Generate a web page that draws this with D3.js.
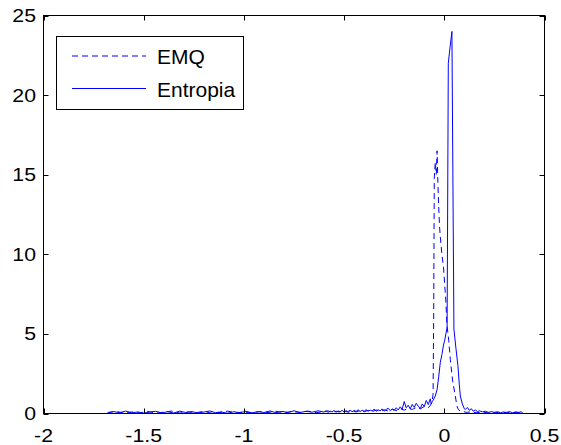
<!DOCTYPE html>
<html>
<head>
<meta charset="utf-8">
<script src="https://cdn.jsdelivr.net/npm/d3@7"></script>
<style>
  html, body { margin: 0; padding: 0; background: #fff; }
  svg { display: block; font-family: "Liberation Sans", Arial, Helvetica, sans-serif; }
</style>
</head>
<body>
<svg id="chart" width="561" height="445"></svg>
<script>
// axis ticks
const xTicks = [-2, -1.5, -1, -0.5, 0, 0.5];
const yTicks = [0, 5, 10, 15, 20, 25];
const xTickLabels = ["-2", "-1.5", "-1", "-0.5", "0", "0.5"];
const yTickLabels = ["0", "5", "10", "15", "20", "25"];

const seriesNames = ["EMQ", "Entropia"];

// EMQ (dashed) – [x, density]
const emq = [
  [-1.68,0.06],[-1.64,0.14],[-1.60,0.03],[-1.56,0.1],[-1.52,0.04],[-1.48,0.13],[-1.44,0.02],[-1.40,0.09],
  [-1.36,0.15],[-1.32,0.03],[-1.28,0.1],[-1.24,0.05],[-1.20,0.13],[-1.16,0.02],[-1.12,0.09],[-1.08,0.15],
  [-1.04,0.04],[-1.00,0.1],[-0.96,0.03],[-0.92,0.12],[-0.88,0.06],[-0.84,0.14],[-0.80,0.04],[-0.76,0.12],
  [-0.72,0.07],[-0.68,0.15],[-0.64,0.05],[-0.60,0.12],[-0.58,0.16],[-0.56,0.07],[-0.54,0.14],[-0.52,0.09],
  [-0.50,0.17],[-0.48,0.08],[-0.46,0.15],[-0.44,0.1],[-0.42,0.18],[-0.40,0.11],[-0.38,0.2],[-0.36,0.12],
  [-0.34,0.22],[-0.32,0.14],[-0.30,0.23],[-0.28,0.16],[-0.26,0.27],[-0.24,0.18],[-0.22,0.3],[-0.20,0.21],
  [-0.18,0.34],[-0.16,0.25],[-0.14,0.38],[-0.12,0.29],[-0.10,0.44],[-0.08,0.36],[-0.07,0.5],[-0.062,0.7],
  [-0.056,1.2],[-0.053,6.0],[-0.05,14.8],[-0.045,15.8],[-0.04,15.0],[-0.036,16.5],[-0.032,14.5],[-0.028,13.0],
  [-0.024,11.8],[-0.02,11.1],[-0.012,10.0],[-0.004,9.2],[0.008,7.0],[0.013,5.6],[0.022,4.6],[0.03,3.4],
  [0.041,2.1],[0.055,1.1],[0.063,0.46],[0.07,0.25],[0.08,0.15],[0.095,0.12],[0.11,0.07],[0.13,0.1],
  [0.16,0.05],[0.19,0.09],[0.22,0.04],[0.25,0.08],[0.28,0.03],[0.31,0.07],[0.34,0.04],[0.37,0.08],[0.39,0.02]
];

// Entropia (solid) – [x, density]
const entropia = [
  [-1.68,0.03],[-1.65,0.12],[-1.62,0.05],[-1.59,0.15],[-1.56,0.04],[-1.53,0.1],[-1.50,0.02],[-1.47,0.09],
  [-1.44,0.14],[-1.41,0.04],[-1.38,0.11],[-1.35,0.03],[-1.32,0.15],[-1.29,0.06],[-1.26,0.12],[-1.23,0.03],
  [-1.20,0.09],[-1.17,0.16],[-1.14,0.04],[-1.11,0.08],[-1.08,0.02],[-1.05,0.11],[-1.02,0.05],[-0.99,0.14],
  [-0.96,0.04],[-0.93,0.12],[-0.90,0.06],[-0.87,0.16],[-0.84,0.05],[-0.81,0.13],[-0.78,0.07],[-0.75,0.17],
  [-0.72,0.06],[-0.69,0.14],[-0.66,0.08],[-0.63,0.17],
  [-0.60,0.09],[-0.59,0.17],[-0.58,0.07],[-0.57,0.15],[-0.56,0.1],[-0.55,0.19],[-0.54,0.08],[-0.53,0.16],
  [-0.52,0.11],[-0.51,0.2],[-0.50,0.09],[-0.49,0.17],[-0.48,0.12],[-0.47,0.21],[-0.46,0.11],[-0.45,0.19],
  [-0.44,0.13],[-0.43,0.23],[-0.42,0.12],[-0.41,0.2],[-0.40,0.14],[-0.39,0.24],[-0.38,0.13],[-0.37,0.22],
  [-0.36,0.16],[-0.35,0.27],[-0.34,0.14],[-0.33,0.23],[-0.32,0.17],[-0.31,0.29],[-0.30,0.15],[-0.29,0.25],
  [-0.28,0.33],[-0.27,0.18],[-0.26,0.28],[-0.25,0.2],[-0.24,0.36],[-0.23,0.22],[-0.22,0.42],[-0.21,0.27],
  [-0.20,0.75],[-0.19,0.36],[-0.18,0.52],[-0.17,0.29],[-0.16,0.57],[-0.15,0.39],[-0.14,0.64],[-0.13,0.46],
  [-0.12,0.31],[-0.11,0.6],[-0.10,0.43],[-0.09,0.82],[-0.08,0.56],[-0.07,0.92],
  [-0.065,0.6],[-0.06,0.75],[-0.055,0.85],[-0.045,1.1],[-0.036,1.5],[-0.028,2.3],[-0.02,3.2],[-0.012,3.7],
  [-0.004,4.3],[0.002,4.6],[0.008,5.0],[0.014,5.4],[0.02,22.0],[0.026,22.7],[0.038,24.0],[0.048,5.3],
  [0.058,4.1],[0.068,3.0],[0.075,1.8],[0.08,1.1],[0.09,0.6],[0.1,0.3],[0.105,0.25],
  [0.115,0.38],[0.125,0.2],[0.135,0.3],[0.145,0.14],[0.155,0.22],[0.165,0.12],[0.175,0.17],[0.19,0.1],
  [0.205,0.14],[0.22,0.07],[0.235,0.12],[0.25,0.06],[0.265,0.11],[0.28,0.05],[0.295,0.1],[0.31,0.06],
  [0.325,0.12],[0.34,0.05],[0.355,0.1],[0.37,0.06],[0.385,0.11],[0.39,0.02]
];

const width = 561, height = 445;
const margin = { top: 15.5, right: 16.5, bottom: 31.5, left: 43.5 };
const blue = "#0000ff";
const tickLen = 5;
const textScale = 1.15; // source image fonts look a bit stretched

const svg = d3.select("#chart");

const x = d3.scaleLinear().domain([-2, 0.5]).range([margin.left, width - margin.right]);
const y = d3.scaleLinear().domain([0, 25]).range([height - margin.bottom, margin.top]);

const line = d3.line().x(d => x(d[0])).y(d => y(d[1]));

// the curves
const plot = svg.append("g");
plot.append("path")
  .datum(emq)
  .attr("fill", "none")
  .attr("stroke", blue)
  .attr("stroke-width", 1)
  .attr("stroke-dasharray", "6,4")
  .attr("d", line);

plot.append("path")
  .datum(entropia)
  .attr("fill", "none")
  .attr("stroke", blue)
  .attr("stroke-width", 1)
  .attr("d", line);

// box + inward ticks on all four sides (matlab style)
const axes = svg.append("g").attr("stroke", "#000").attr("stroke-width", 1);
axes.append("rect")
  .attr("x", x(-2)).attr("y", y(25))
  .attr("width", x(0.5) - x(-2)).attr("height", y(0) - y(25))
  .attr("fill", "none");

axes.selectAll(".xtb").data(xTicks).join("line")
  .attr("x1", d => Math.round(x(d)) + 0.5).attr("x2", d => Math.round(x(d)) + 0.5)
  .attr("y1", y(0)).attr("y2", y(0) - tickLen);
axes.selectAll(".xtt").data(xTicks).join("line")
  .attr("class", "xtt")
  .attr("x1", d => Math.round(x(d)) + 0.5).attr("x2", d => Math.round(x(d)) + 0.5)
  .attr("y1", y(25)).attr("y2", y(25) + tickLen);

axes.selectAll(".ytl").data(yTicks).join("line")
  .attr("class", "ytl")
  .attr("x1", x(-2)).attr("x2", x(-2) + tickLen)
  .attr("y1", d => Math.round(y(d)) + 0.5).attr("y2", d => Math.round(y(d)) + 0.5);
axes.selectAll(".ytr").data(yTicks).join("line")
  .attr("class", "ytr")
  .attr("x1", x(0.5)).attr("x2", x(0.5) - tickLen)
  .attr("y1", d => Math.round(y(d)) + 0.5).attr("y2", d => Math.round(y(d)) + 0.5);

// tick labels
svg.append("g").selectAll("text").data(xTicks).join("text")
  .attr("transform", d => `translate(${x(d)},441.5) scale(${textScale},1)`)
  .attr("text-anchor", "middle")
  .attr("font-size", 18.5)
  .attr("fill", "#000")
  .text((d, i) => xTickLabels[i]);

svg.append("g").selectAll("text").data(yTicks).join("text")
  .attr("transform", d => `translate(36,${y(d) + 6.5}) scale(${textScale},1)`)
  .attr("text-anchor", "end")
  .attr("font-size", 18.5)
  .attr("fill", "#000")
  .text((d, i) => yTickLabels[i]);

// legend
const legend = svg.append("g");
legend.append("rect")
  .attr("x", 56.5).attr("y", 36.5)
  .attr("width", 187).attr("height", 73)
  .attr("fill", "#fff").attr("stroke", "#000").attr("stroke-width", 1);

const legendRows = [
  { name: seriesNames[0], dash: "6,4", y: 56 },
  { name: seriesNames[1], dash: null, y: 88.5 }
];
legendRows.forEach(r => {
  legend.append("line")
    .attr("x1", 72).attr("x2", 146)
    .attr("y1", r.y).attr("y2", r.y)
    .attr("stroke", blue).attr("stroke-width", 1)
    .attr("stroke-dasharray", r.dash);
  legend.append("text")
    .attr("transform", `translate(157,${r.y + 8}) scale(1.05,1)`)
    .attr("font-size", 20)
    .attr("fill", "#000")
    .text(r.name);
});
</script>
</body>
</html>
